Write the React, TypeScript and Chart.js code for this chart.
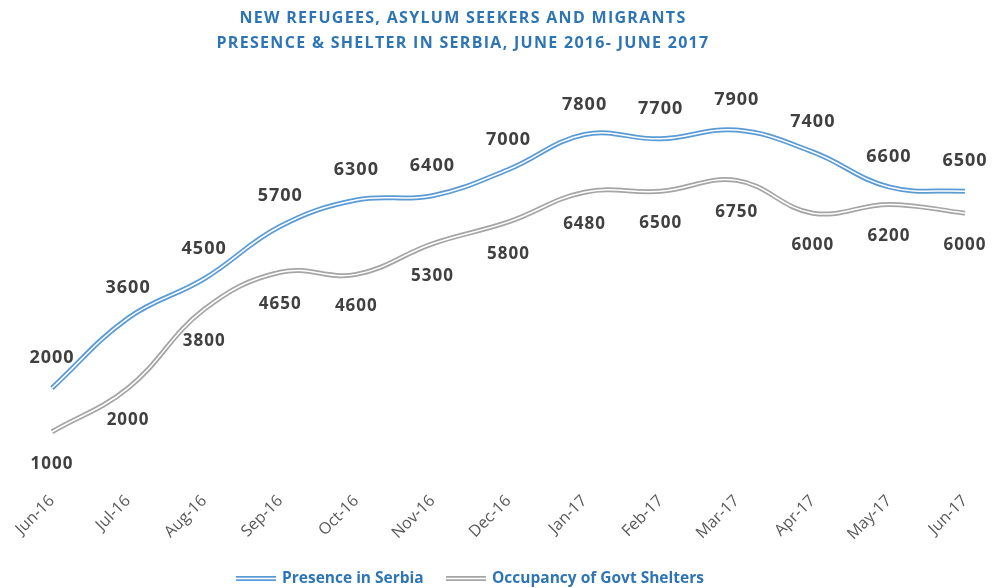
import React, { useEffect, useRef } from "react";
import { Chart, registerables } from "chart.js";

Chart.register(...registerables);

const categories = ["Jun-16", "Jul-16", "Aug-16", "Sep-16", "Oct-16", "Nov-16", "Dec-16", "Jan-17", "Feb-17", "Mar-17", "Apr-17", "May-17", "Jun-17"];
const presence = [2000, 3600, 4500, 5700, 6300, 6400, 7000, 7800, 7700, 7900, 7400, 6600, 6500];
const occupancy = [1000, 2000, 3800, 4650, 4600, 5300, 5800, 6480, 6500, 6750, 6000, 6200, 6000];
const titleLines = ["NEW REFUGEES, ASYLUM SEEKERS AND MIGRANTS", "PRESENCE & SHELTER IN SERBIA, JUNE 2016- JUNE 2017"];
const seriesNames = ["Presence in Serbia", "Occupancy of Govt Shelters"];

const BLUE = "#5B9BD5";
const GRAY = "#A5A5A5";
const TEXT_BLUE = "#2E75B6";
const LABEL = "#404040";

const overlayPlugin = {
  id: "overlay",
  afterDatasetsDraw(chart: any) {
    const ctx = chart.ctx;
    ctx.save();
    const specs = [
      { idx: 2, off: -30, size: 18 },
      { idx: 3, off: 32, size: 17 },
    ];
    specs.forEach((s) => {
      const meta = chart.getDatasetMeta(s.idx);
      const data = chart.data.datasets[s.idx].data;
      ctx.font = `bold ${s.size}px "Open Sans"`;
      (ctx as any).letterSpacing = "1px";
      ctx.fillStyle = LABEL;
      ctx.textAlign = "center";
      ctx.textBaseline = "middle";
      meta.data.forEach((pt: any, i: number) => {
        ctx.fillText(String(data[i]), pt.x, pt.y + s.off);
      });
    });
    ctx.restore();
  },
  afterDraw(chart: any) {
    const ctx = chart.ctx;
    ctx.save();
    ctx.font = 'bold 16px "Open Sans"';
    (ctx as any).letterSpacing = "1.3px";
    ctx.fillStyle = TEXT_BLUE;
    ctx.textAlign = "center";
    ctx.textBaseline = "middle";
    ctx.fillText(titleLines[0], 463, 18);
    ctx.fillText(titleLines[1], 463, 43);
    (ctx as any).letterSpacing = "0px";
    const items = [
      { x: 236, color: BLUE, name: seriesNames[0] },
      { x: 446, color: GRAY, name: seriesNames[1] },
    ];
    const ly = 578.5;
    items.forEach((it) => {
      ctx.beginPath();
      ctx.moveTo(it.x, ly);
      ctx.lineTo(it.x + 40, ly);
      ctx.strokeStyle = it.color;
      ctx.lineWidth = 5;
      ctx.stroke();
      ctx.beginPath();
      ctx.moveTo(it.x, ly);
      ctx.lineTo(it.x + 40, ly);
      ctx.strokeStyle = "#ffffff";
      ctx.lineWidth = 1.5;
      ctx.stroke();
      ctx.font = 'bold 15.5px "Open Sans"';
      ctx.fillStyle = TEXT_BLUE;
      ctx.textAlign = "left";
      ctx.textBaseline = "middle";
      ctx.fillText(it.name, it.x + 46, ly + 0.5);
    });
    ctx.restore();
  },
};

export default function App() {
  const ref = useRef<HTMLCanvasElement | null>(null);
  useEffect(() => {
    if (!ref.current) return;
    const chart = new Chart(ref.current, {
      type: "line",
      data: {
        labels: categories,
        datasets: [
          { label: seriesNames[0] + " inner", data: presence, borderColor: "#ffffff", borderWidth: 1.5, pointRadius: 0, tension: 0.4, fill: false, order: 0 },
          { label: seriesNames[1] + " inner", data: occupancy, borderColor: "#ffffff", borderWidth: 1.5, pointRadius: 0, tension: 0.4, fill: false, order: 0 },
          { label: seriesNames[0], data: presence, borderColor: BLUE, borderWidth: 5, pointRadius: 0, tension: 0.4, fill: false, order: 1 },
          { label: seriesNames[1], data: occupancy, borderColor: GRAY, borderWidth: 5, pointRadius: 0, tension: 0.4, fill: false, order: 1 },
        ],
      },
      options: {
        animation: false,
        responsive: true,
        maintainAspectRatio: false,
        layout: { padding: { left: 52, right: 27, top: 82, bottom: 0 } },
        plugins: { legend: { display: false }, title: { display: false }, tooltip: { enabled: false } },
        scales: {
          x: {
            offset: false,
            grid: { display: false, drawTicks: false },
            border: { display: false },
            ticks: { minRotation: 45, maxRotation: 45, padding: 16, color: "#595959", font: { family: "Open Sans", size: 16 } },
            afterFit: (scale: any) => {
              scale.height = 112.5;
              scale.paddingLeft = 0;
              scale.paddingRight = 0;
            },
          },
          y: { display: false, min: 0, max: 9000 },
        },
      },
      plugins: [overlayPlugin],
    });
    return () => chart.destroy();
  }, []);
  return (
    <div style={{ position: "absolute", left: 0, top: 0, width: 992, height: 588, background: "#fff" }}>
      <canvas ref={ref} />
    </div>
  );
}
